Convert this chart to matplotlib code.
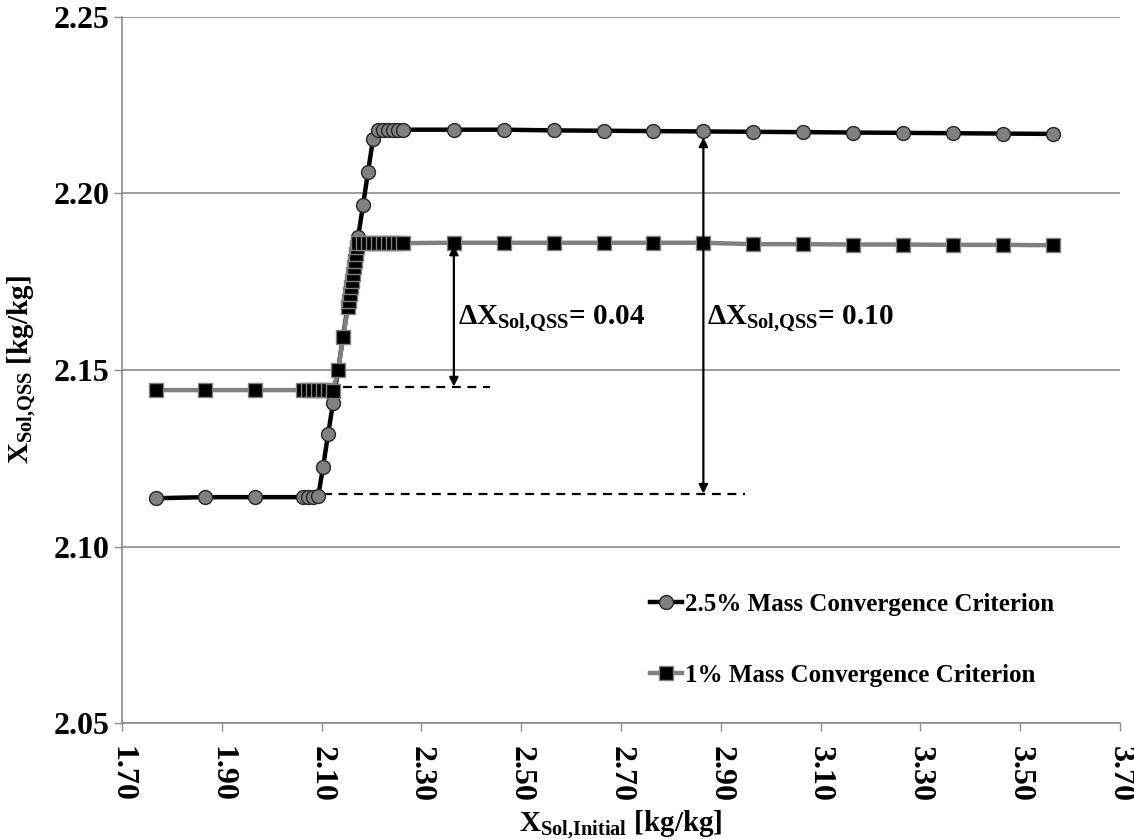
import matplotlib
matplotlib.use("Agg")
import matplotlib.pyplot as plt

plt.rcParams['font.family'] = ['Liberation Serif', 'DejaVu Serif']
plt.rcParams['font.weight'] = 'bold'
plt.rcParams['mathtext.fontset'] = 'custom'
plt.rcParams['mathtext.rm'] = 'Liberation Serif:bold'
plt.rcParams['mathtext.it'] = 'Liberation Serif:bold'
plt.rcParams['mathtext.bf'] = 'Liberation Serif:bold'

# 2.5 % mass convergence criterion
x_25 = [1.768, 1.867, 1.966, 2.063, 2.073, 2.083, 2.093, 2.103, 2.113, 2.123,
        2.173, 2.183, 2.193, 2.203, 2.213, 2.223, 2.233, 2.243, 2.253, 2.263,
        2.365, 2.465, 2.565, 2.665, 2.765, 2.865, 2.965, 3.065, 3.165, 3.265,
        3.365, 3.465, 3.565]
y_25 = [2.1137, 2.1140, 2.1140, 2.1140, 2.1140, 2.1140, 2.1142, 2.1226, 2.1319, 2.1407,
        2.1875, 2.1967, 2.2061, 2.2153, 2.2180, 2.2180, 2.2180, 2.2180, 2.2180, 2.2180,
        2.2180, 2.2180, 2.2178, 2.2177, 2.2176, 2.2175, 2.2174, 2.2173, 2.2172, 2.2171,
        2.2170, 2.2169, 2.2168]

# 1 % mass convergence criterion
x_1 = [1.768, 1.867, 1.966, 2.063, 2.073, 2.083, 2.093, 2.103, 2.113, 2.123,
       2.133, 2.143, 2.153, 2.155, 2.157, 2.159, 2.161, 2.163, 2.165, 2.167,
       2.169, 2.171, 2.173, 2.183, 2.193, 2.203, 2.213, 2.223, 2.233, 2.243,
       2.253, 2.263, 2.365, 2.465, 2.565, 2.665, 2.765, 2.865, 2.965, 3.065,
       3.165, 3.265, 3.365, 3.465, 3.565]
y_1 = [2.1443, 2.1443, 2.1443, 2.1443, 2.1443, 2.1443, 2.1443, 2.1443, 2.1443, 2.1441,
       2.1500, 2.1593, 2.1677, 2.1696, 2.1715, 2.1734, 2.1752, 2.1771, 2.1790, 2.1809,
       2.1828, 2.1847, 2.1859, 2.1859, 2.1859, 2.1859, 2.1859, 2.1859, 2.1859, 2.1859,
       2.1859, 2.1859, 2.1860, 2.1860, 2.1860, 2.1860, 2.1860, 2.1860, 2.1856, 2.1856,
       2.1855, 2.1855, 2.1854, 2.1854, 2.1853]

x_ticks = [1.70, 1.90, 2.10, 2.30, 2.50, 2.70, 2.90, 3.10, 3.30, 3.50, 3.70]
y_ticks = [2.05, 2.10, 2.15, 2.20, 2.25]

# reference levels and the differences between the plateaus
lo_1, lo_25 = 2.1453, 2.1150
dx_1 = 0.04
dx_25 = 0.10

grid_col = '#8c8c8c'

fig = plt.figure(figsize=(11.34, 8.39), dpi=100)
ax = fig.add_axes([0.1076, 0.1379, 0.8801, 0.8423])

ax.plot(x_25, y_25, color='black', lw=3.2, marker='o', ms=10,
        mfc='#808080', mec='#262626', mew=1.0,
        label='2.5% Mass Convergence Criterion', zorder=3)
ax.plot(x_1, y_1, color='#808080', lw=3.2, marker='s', ms=9.5,
        mfc='black', mec='#808080', mew=1.0,
        label='1% Mass Convergence Criterion', zorder=4)

# dashed guide lines at the lower plateaus
ax.plot([2.143, 2.437], [lo_1, lo_1], color='black', lw=1.6, ls=(0, (4, 3)), zorder=2)
ax.plot([2.103, 2.948], [lo_25, lo_25], color='black', lw=1.6, ls=(0, (4, 3)), zorder=2)

# double arrows between the plateaus
arrow = dict(arrowstyle='<|-|>', color='black', lw=1.6, mutation_scale=13,
             shrinkA=0, shrinkB=0)
xa1 = x_1[32]
xa2 = x_25[25]
ax.annotate('', xy=(xa1, y_1[32] - 0.0008), xytext=(xa1, lo_1), arrowprops=arrow, zorder=5)
ax.annotate('', xy=(xa2, y_25[25] - 0.0017), xytext=(xa2, lo_25), arrowprops=arrow, zorder=5)

ax.text(xa1 + 0.008, 2.1645, 'Δ$X_{Sol{,}QSS}$= %.2f' % dx_1, fontsize=21,
        fontweight='bold', va='center', ha='left')
ax.text(xa2 + 0.008, 2.1645, 'Δ$X_{Sol{,}QSS}$= %.2f' % dx_25, fontsize=21,
        fontweight='bold', va='center', ha='left')

ax.set_xlim(1.70, 3.70)
ax.set_ylim(2.05, 2.25)
ax.set_xticks(x_ticks)
ax.set_yticks(y_ticks)
ax.set_xticklabels(['%.2f' % v for v in x_ticks], rotation=-90, fontsize=23,
                   fontweight='bold')
ax.set_yticklabels(['%.2f' % v for v in y_ticks], fontsize=23, fontweight='bold')
ax.tick_params(direction='out', length=6, color=grid_col, width=1)
ax.tick_params(axis='x', pad=10)
ax.tick_params(axis='y', pad=3)

ax.yaxis.grid(True, color=grid_col, lw=1.2)
ax.set_axisbelow(True)
for side in ['top', 'right']:
    ax.spines[side].set_visible(False)
for side in ['left', 'bottom']:
    ax.spines[side].set_color(grid_col)
    ax.spines[side].set_linewidth(1.2)

ax.set_xlabel('$X_{Sol{,}Initial}$ [kg/kg]', fontsize=21, fontweight='bold', labelpad=5)
ax.set_ylabel('$X_{Sol{,}QSS}$ [kg/kg]', fontsize=21, fontweight='bold', labelpad=11)

ax.legend(loc='upper left', bbox_to_anchor=(0.506, 0.216), frameon=False,
          handlelength=1.3, handletextpad=0.1, labelspacing=1.9,
          prop={'weight': 'bold', 'size': 18})

fig.savefig('out.png', dpi=100)
